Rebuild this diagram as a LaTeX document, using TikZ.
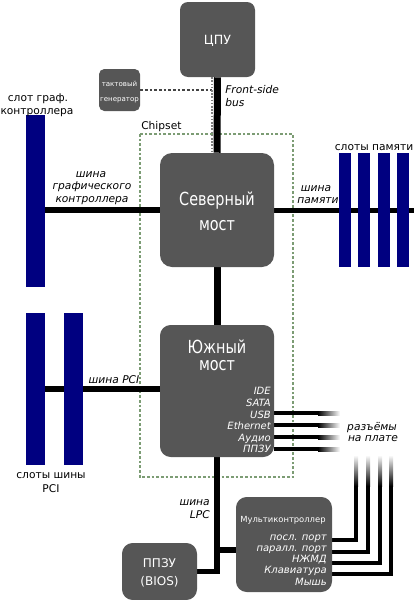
\documentclass[tikz,border=0pt]{standalone}
\usepackage{fontspec}
\setmainfont{DejaVu Sans}
\newfontfamily\bigfont[FakeStretch=0.8]{DejaVu Sans}
\usetikzlibrary{backgrounds}
\definecolor{boxgray}{HTML}{565656}
\definecolor{slotblue}{HTML}{000080}
\definecolor{chipgreen}{HTML}{7C9C74}
\definecolor{clkgray}{HTML}{444444}
\begin{document}
\begin{tikzpicture}[x=0.75pt,y=-0.75pt,
  boxst/.style={fill=boxgray, draw=none, rounded corners=#1, inner sep=0pt},
  boxst/.default=7pt,
  slotst/.style={fill=slotblue, draw=none, inner sep=0pt},
  wt/.style={text=white, inner sep=0pt},
  lbl/.style={inner sep=0pt, font=\fontsize{8}{9.6}\selectfont},
  ital/.style={inner sep=0pt, font=\fontsize{8}{9.6}\selectfont\itshape},
  port/.style={text=white, inner sep=0pt, anchor=base east, font=\fontsize{7.5}{9}\selectfont\itshape},
  bigt/.style={text=white, inner sep=0pt, anchor=base, font=\fontsize{13.5}{16}\bigfont},
  bus/.style={draw=black, line width=#1},
  bus/.default=4.5pt,
  thin/.style={draw=black, line width=3pt, line join=miter}
]
\useasboundingbox (0,0) rectangle (416,600);

% boxes
\node[boxst=6pt, minimum width=56.25pt, minimum height=56.25pt] (cpu) at (217.5,39.5) {};
\node[wt, font=\fontsize{9.5}{11}\selectfont] (cputxt) at (217.5,41) {ЦПУ};
\node[boxst=4pt, minimum width=30.75pt, minimum height=31.5pt] (clk) at (119.5,90) {};
\node[wt, anchor=base, font=\fontsize{5.3}{7.5}\selectfont] (clktxt1) at (119.5,86) {тактовый};
\node[wt, anchor=base, font=\fontsize{5.3}{7.5}\selectfont] (clktxt2) at (119.5,101) {генератор};
\node[boxst=9pt, minimum width=85.5pt, minimum height=85.5pt] (nb) at (217,210) {};
\node[bigt] (nbt1) at (217,205) {Северный};
\node[bigt] (nbt2) at (217,230) {мост};
\node[boxst=8pt, minimum width=85.5pt, minimum height=99pt] (sb) at (217,391) {};
\node[bigt] (sbt1) at (217,353) {Южный};
\node[bigt] (sbt2) at (217,370) {мост};
\node[port] (pide) at (271,394) {IDE};
\node[port] (psata) at (271,406) {SATA};
\node[port] (pusb) at (271,418) {USB};
\node[port] (peth) at (271,429.5) {Ethernet};
\node[port] (paud) at (271,441) {Аудио};
\node[port] (prom) at (271,452.5) {ППЗУ};
\node[boxst=8pt, minimum width=72pt, minimum height=71.25pt] (multi) at (284,544.5) {};
\node[wt, anchor=base, font=\fontsize{6.3}{7.5}\selectfont] (multit) at (283,522) {Мультиконтроллер};
\node[port] (m1) at (327,540) {посл. порт};
\node[port] (m2) at (327,551) {паралл. порт};
\node[port] (m3) at (327,562) {НЖМД};
\node[port] (m4) at (327,573.5) {Клавиатура};
\node[port] (m5) at (327,585.5) {Мышь};
\node[boxst=8pt, minimum width=56.25pt, minimum height=42.75pt] (bios) at (159.5,571.5) {};
\node[wt, anchor=base, font=\fontsize{9}{11}\selectfont] (biost1) at (159.5,567) {ППЗУ};
\node[wt, anchor=base, font=\fontsize{9}{11}\selectfont] (biost2) at (159.5,585) {(BIOS)};

% slots
\node[slotst, minimum width=14.25pt, minimum height=129pt] (agp) at (35.5,201) {};
\node[slotst, minimum width=14.25pt, minimum height=114pt] (pci1) at (35.5,389) {};
\node[slotst, minimum width=14.25pt, minimum height=114pt] (pci2) at (73.5,389) {};
\node[slotst, minimum width=9pt, minimum height=85.5pt] (mem1) at (345,210) {};
\node[slotst, minimum width=9pt, minimum height=85.5pt] (mem2) at (364,210) {};
\node[slotst, minimum width=9pt, minimum height=85.5pt] (mem3) at (384,210) {};
\node[slotst, minimum width=9pt, minimum height=85.5pt] (mem4) at (403,210) {};

% coordinates
\coordinate (memend) at (414,210);
\coordinate (pcil) at (45,389);
\coordinate (dashx) at (212,90);
\coordinate (lpcj) at (217,550);

% labels
\node[lbl, anchor=base] (lslot1) at (38,101) {слот граф.};
\node[lbl, anchor=base] (lslot2) at (37,114) {контроллера};
\node[ital, anchor=base west] (fsb1) at (225,93) {Front-side};
\node[ital, anchor=base west] (fsb2) at (225,106) {bus};
\node[lbl, anchor=base west] (chip) at (141,129) {Chipset};
\node[lbl, anchor=base] (lmem) at (374,150) {слоты памяти};
\node[ital, anchor=base] (lg1) at (91,177) {шина};
\node[ital, anchor=base] (lg2) at (92,189.5) {графического};
\node[ital, anchor=base] (lg3) at (92,202) {контроллера};
\node[ital, anchor=base] (lm1) at (316,191) {шина};
\node[ital, anchor=base] (lm2) at (318,203.5) {памяти};
\node[ital, anchor=base] (lpci) at (114,383) {шина PCI};
\node[ital, anchor=base] (lcon1) at (372,430) {разъёмы};
\node[ital, anchor=base] (lcon2) at (373,441.5) {на плате};
\node[lbl, anchor=base] (lps1) at (51,478) {слоты шины};
\node[lbl, anchor=base] (lps2) at (51,492) {PCI};
\node[ital, anchor=base east] (llpc1) at (210,505) {шина};
\node[ital, anchor=base east] (llpc2) at (210,518) {LPC};

\begin{scope}[on background layer]
  % chipset box
  \draw[chipgreen, line width=0.8pt, dash pattern=on 2pt off 1.5pt] (140,134) rectangle (293,477);
  % buses
  \draw[bus=5.25pt] (cpu.south) -- (nb.north);
  \draw[bus=5.25pt] (nb.south) -- (sb.north);
  \draw[bus=4.5pt] (agp.center |- nb.west) -- (nb.west);
  \draw[bus=3.75pt] (nb.east) -- (memend);
  \draw[bus=4pt] (pcil) -- (pcil -| sb.west);
  \draw[bus=4pt, line join=miter] (sb.south) |- (bios.east);
  \draw[bus=4pt] (lpcj) -- (lpcj -| multi.west);
  % clock
  \draw[clkgray, line width=0.8pt, dash pattern=on 2pt off 1.5pt] (clk.east |- dashx) -- (dashx);
  \draw[gray, line width=0.8pt, dash pattern=on 1.2pt off 1.2pt] (cpu.south -| dashx) -- (nb.north -| dashx);
  % southbridge connector lines (fading)
  \foreach \yy in {413,425,437,449} {
    \fill[black] (274,\yy-2) rectangle (318,\yy+2);
    \shade[left color=black, right color=white] (318,\yy-2) rectangle (340,\yy+2);
  }
  % multicontroller connector lines (fading)
  \foreach \yy/\xx in {540/356,552/368,563/380,574/391} {
    \draw[thin] (332,\yy) -| (\xx,485);
    \shade[top color=white, bottom color=black] (\xx-2,455) rectangle (\xx+2,486);
  }
\end{scope}
\end{tikzpicture}
\end{document}
